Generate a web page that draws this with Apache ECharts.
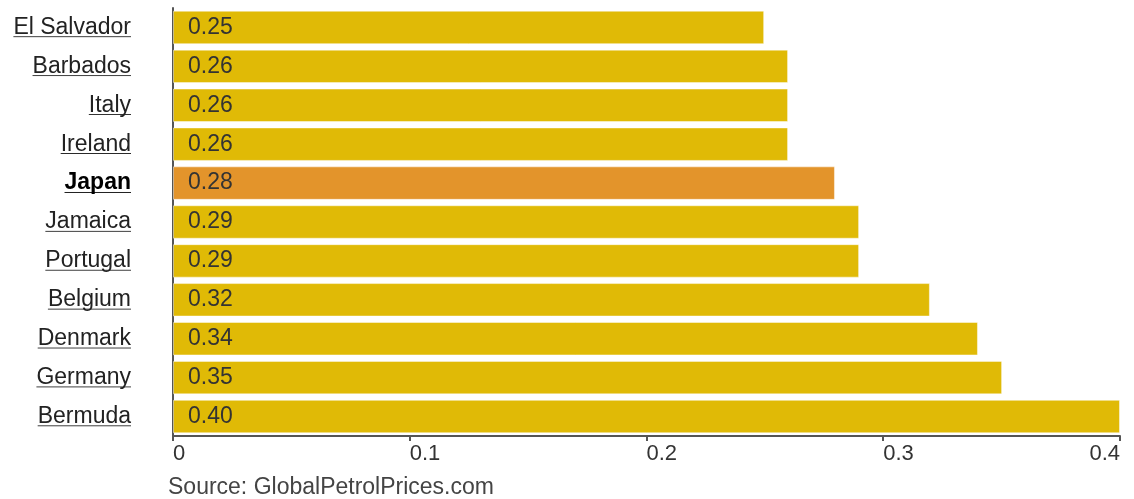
<!DOCTYPE html>
<html>
<head>
<meta charset="utf-8">
<script src="https://cdn.jsdelivr.net/npm/echarts@6/dist/echarts.min.js"></script>
<style>
  html, body { margin: 0; padding: 0; background: #fff; }
  #chart { width: 1134px; height: 499px; }
</style>
</head>
<body>
<div id="chart"></div>
<script>
// data (price, USD)
const countries = ['El Salvador', 'Barbados', 'Italy', 'Ireland', 'Japan', 'Jamaica',
  'Portugal', 'Belgium', 'Denmark', 'Germany', 'Bermuda'];
const prices = [0.2497, 0.2598, 0.2598, 0.2598, 0.2796, 0.2898, 0.2898, 0.3197, 0.3400, 0.3502, 0.4000];
const highlight = 'Japan';
const xTicks = [0, 0.1, 0.2, 0.3, 0.4];

const FONT = '"Liberation Sans", Arial, sans-serif';

// small canvas stretched behind each label to fake an underline
function underline(color) {
  const c = document.createElement('canvas');
  c.width = 4;
  c.height = 26;
  const ctx = c.getContext('2d');
  ctx.fillStyle = color;
  ctx.fillRect(0, 23, 4, 1);
  return c;
}

const myChart = echarts.init(document.getElementById('chart'));

const barData = prices.map((v, i) => ({
  value: v,
  itemStyle: { color: countries[i] === highlight ? '#E3942B' : '#E0BA06' }
}));

const option = {
  animation: false,
  grid: { left: 173, right: 14, top: 8, bottom: 63 },
  xAxis: {
    type: 'value',
    min: xTicks[0],
    max: xTicks[xTicks.length - 1],
    interval: 0.1,
    splitLine: { show: false },
    axisLine: { show: true, lineStyle: { color: '#555', width: 2 } },
    axisTick: { show: true, length: 5, lineStyle: { color: '#555', width: 2 } },
    axisLabel: {
      fontFamily: FONT,
      fontSize: 22,
      color: '#333',
      margin: 7,
      align: 'left',
      alignMaxLabel: 'right',
      formatter: v => String(+v.toFixed(1))
    }
  },
  yAxis: {
    type: 'category',
    inverse: true,
    data: countries,
    axisLine: { show: true, lineStyle: { color: '#555', width: 2 } },
    axisTick: { show: false },
    axisLabel: {
      margin: 42,
      formatter: v => (v === highlight ? '{b|' + v + '}' : '{a|' + v + '}'),
      rich: {
        a: {
          fontFamily: FONT, fontSize: 23, color: '#222', lineHeight: 26,
          backgroundColor: { image: underline('#222') }
        },
        b: {
          fontFamily: FONT, fontSize: 23, fontWeight: 'bold', color: '#000', lineHeight: 26,
          backgroundColor: { image: underline('#000') }
        }
      }
    }
  },
  series: [{
    type: 'bar',
    data: barData,
    barCategoryGap: '14%',
    itemStyle: { borderColor: 'rgba(255,255,255,0.45)', borderWidth: 1 },
    label: {
      show: true,
      position: 'insideLeft',
      distance: 15,
      fontFamily: FONT,
      fontSize: 23,
      color: '#333',
      formatter: p => p.value.toFixed(2)
    }
  }],
  graphic: [{
    type: 'text',
    left: 168,
    top: 476,
    style: { text: 'Source: GlobalPetrolPrices.com', font: '23px "Liberation Sans", Arial, sans-serif', fill: '#444' }
  }]
};

myChart.setOption(option);
</script>
</body>
</html>
